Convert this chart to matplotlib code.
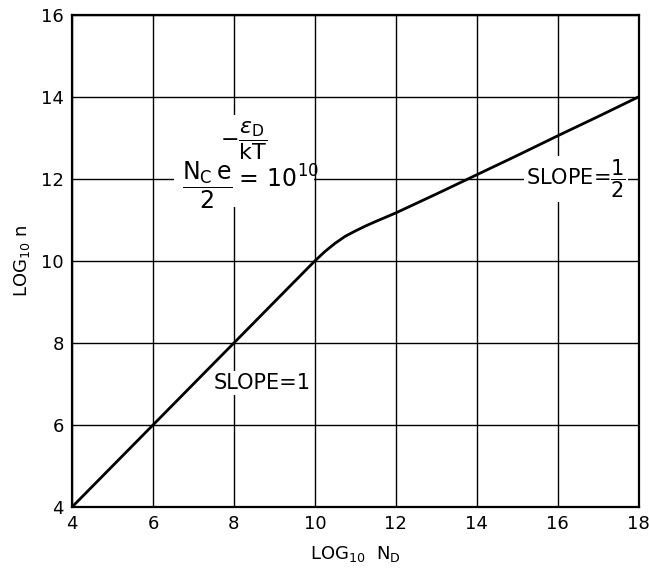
import matplotlib.pyplot as plt
from matplotlib.patches import Rectangle

# 曲線の読み取り値 (log10 N_D, log10 n)
log_nd = [4, 6, 8, 9, 9.5, 10, 10.25, 10.5, 10.75, 11, 11.25, 11.5, 12,
          13, 14, 15, 16, 17, 18]
log_n = [4, 6, 8, 9, 9.5, 10, 10.23, 10.43, 10.6, 10.73, 10.85, 10.96, 11.17,
         11.63, 12.1, 12.57, 13.05, 13.52, 14]

x_ticks = [4, 6, 8, 10, 12, 14, 16, 18]
y_ticks = [4, 6, 8, 10, 12, 14, 16]

plt.rcParams['font.family'] = ['DejaVu Sans']
plt.rcParams['mathtext.fontset'] = 'dejavusans'

fig = plt.figure(figsize=(6.49, 5.7), dpi=100)
ax = fig.add_axes([0.111, 0.1105, 0.873, 0.8635])

ax.plot(log_nd, log_n, color='black', linewidth=2.0, zorder=3)

ax.set_xlim(4, 18)
ax.set_ylim(4, 16)
ax.set_xticks(x_ticks)
ax.set_yticks(y_ticks)
ax.tick_params(length=0, labelsize=13, pad=6)
ax.grid(True, color='black', linewidth=1.0)
for s in ax.spines.values():
    s.set_linewidth(1.6)

ax.set_xlabel(r'LOG$_{10}$  N$_\mathrm{D}$', fontsize=13, labelpad=8)
ax.set_ylabel(r'LOG$_{10}$ n', fontsize=13, labelpad=6)

box = dict(facecolor='white', edgecolor='none', pad=1.5)
ax.text(8.7, 7.02, 'SLOPE=1', fontsize=15, ha='center', va='center',
        bbox=box, zorder=2.5)
ax.text(16.45, 12.0, r'SLOPE=$\dfrac{1}{2}$', fontsize=15, ha='center',
        va='center', bbox=box, zorder=2.5)

# 式の部分 (背景を白で抜く)
ax.add_patch(Rectangle((6.53, 11.32), 3.44, 2.24, facecolor='white',
                       edgecolor='none', zorder=2))
ax.text(7.33, 11.85, r'$\dfrac{\mathrm{N_C\,e}}{\mathrm{2}}$', fontsize=17,
        ha='center', va='center', zorder=4)
ax.text(8.25, 12.92, r'$-\dfrac{\epsilon_\mathrm{D}}{\mathrm{kT}}$',
        fontsize=16, ha='center', va='center', zorder=4)
ax.text(9.05, 12.0, r'$=\,\mathrm{10^{10}}$', fontsize=17, ha='center',
        va='center', zorder=4)

plt.savefig('out.png', dpi=100)
